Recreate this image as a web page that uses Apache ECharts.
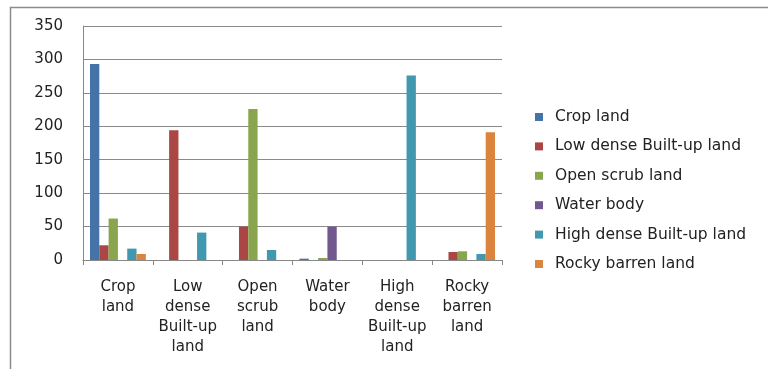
<!DOCTYPE html>
<html><head><meta charset="utf-8">
<script src="https://cdn.jsdelivr.net/npm/echarts@6/dist/echarts.min.js"></script>
<style>html,body{margin:0;padding:0;background:#fff}#c{width:768px;height:369px}</style>
</head><body><div id="c"></div>
<script>
const categories = ["Crop\nland", "Low\ndense\nBuilt-up\nland", "Open\nscrub\nland", "Water\nbody", "High\ndense\nBuilt-up\nland", "Rocky\nbarren\nland"];
const seriesNames = ["Crop land", "Low dense Built-up land", "Open scrub land", "Water body", "High dense Built-up land", "Rocky barren land"];
const cropLand = [293, 0, 0, 2, 0, 0];
const lowDense = [22, 194, 50, 0, 0, 12];
const openScrub = [62, 0, 226, 3, 0, 13];
const waterBody = [0, 0, 0, 50, 0, 0];
const highDense = [17, 41, 15, 0, 276, 9];
const rockyBarren = [9, 0, 0, 0, 0, 191];
const yTicks = [0, 50, 100, 150, 200, 250, 300, 350];
const colors = ["#4572A7", "#AA4643", "#89A54E", "#71588F", "#4198AF", "#DB843D"];
const allData = [cropLand, lowDense, openScrub, waterBody, highDense, rockyBarren];

const chart = echarts.init(document.getElementById('c'), null, {renderer: 'canvas'});
const font = 'DejaVu Sans';
chart.setOption({
  animation: false,
  color: colors,
  textStyle: {fontFamily: font},
  graphic: [{type: 'rect', shape: {x: 10.5, y: 7.5, width: 900, height: 500}, style: {fill: 'none', stroke: '#8c8c8c', lineWidth: 1.5}, silent: true, z: -1}],
  grid: {left: 83, right: 266, top: 26, bottom: 109},
  legend: {
    orient: 'vertical', left: 530, top: 104, itemWidth: 8, itemHeight: 8, itemGap: 13.4,
    icon: 'rect',
    textStyle: {fontSize: 15.5, lineHeight: 16, color: '#222', fontFamily: font, padding: [0, 0, 0, 7]},
    data: seriesNames
  },
  xAxis: {
    type: 'category', data: categories,
    axisLine: {lineStyle: {color: '#888'}},
    axisTick: {show: true, length: 5, lineStyle: {color: '#888'}},
    axisLabel: {fontSize: 15, color: '#222', lineHeight: 20, margin: 17, interval: 0, fontFamily: font}
  },
  yAxis: {
    type: 'value', min: yTicks[0], max: yTicks[yTicks.length - 1], interval: 50,
    axisLine: {show: true, lineStyle: {color: '#888'}},
    axisTick: {show: false},
    splitLine: {lineStyle: {color: '#8a8a8a'}},
    axisLabel: {fontSize: 15, color: '#222', margin: 20, fontFamily: font}
  },
  series: seriesNames.map((n, i) => ({
    name: n, type: 'bar', data: allData[i], barGap: '0%', barCategoryGap: '20%'
  }))
});
</script></body></html>
